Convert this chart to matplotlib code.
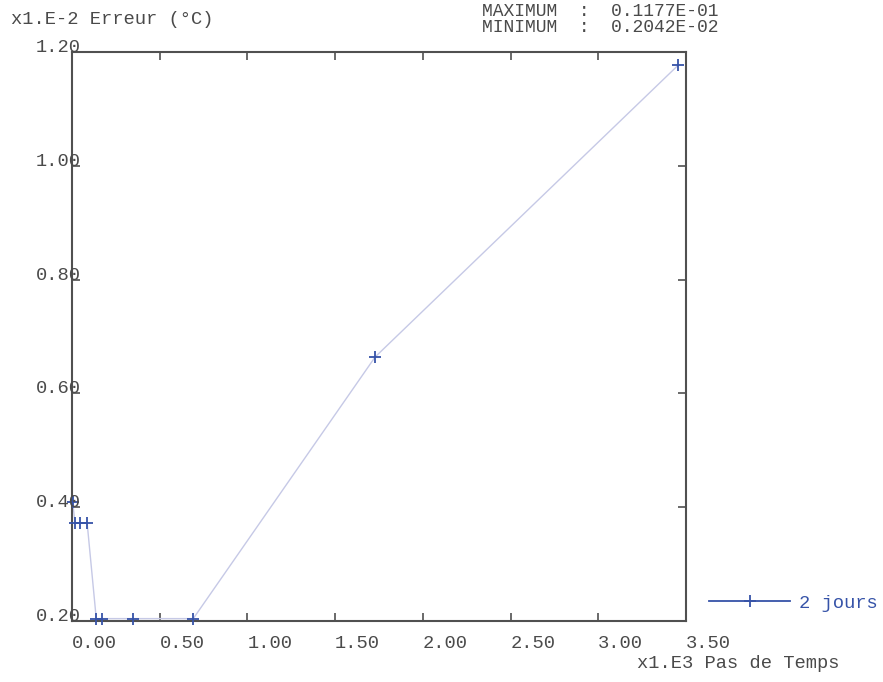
import matplotlib
matplotlib.use("Agg")
import matplotlib.pyplot as plt
from matplotlib.lines import Line2D
import matplotlib.transforms as mtransforms

# time steps (x1.E3) and error (x1.E-2 degC)
pas_temps = [0.00346, 0.01728, 0.0432, 0.0864, 0.13824, 0.1728, 0.3456, 0.6912, 1.728, 3.456]
erreur = [0.410, 0.372, 0.372, 0.372, 0.2042, 0.2042, 0.2042, 0.2042, 0.664, 1.177]

x_ticks = [0.0, 0.5, 1.0, 1.5, 2.0, 2.5, 3.0, 3.5]
y_ticks = [0.2, 0.4, 0.6, 0.8, 1.0, 1.2]

serie_label = "2 jours"
max_text = "MAXIMUM  :  0.1177E-01"
min_text = "MINIMUM  :  0.2042E-02"

mono = "Liberation Mono"
txt_col = "#4a4a4a"
blue = "#3653a8"
lav = "#c6c9e6"
fs = 13.5

fig = plt.figure(figsize=(8.83, 6.82), dpi=100)
ax = fig.add_axes([72 / 883, 1 - 621 / 682, 614 / 883, 569 / 682])

ax.plot(pas_temps, erreur, color=lav, lw=1.0, zorder=2)
ax.plot(pas_temps, erreur, ls="none", marker="+", ms=8, mew=1.3, color=blue,
        clip_on=False, zorder=3)

ax.set_xlim(0, 3.5)
ax.set_ylim(0.2, 1.2)
ax.set_xticks(x_ticks)
ax.set_yticks(y_ticks)
ax.set_xticklabels([])
ax.set_yticklabels([])
ax.tick_params(direction="in", length=5.5, width=1.2, color="#505050",
               top=True, right=True, bottom=True, left=True)
for s in ax.spines.values():
    s.set_color("#505050")
    s.set_linewidth(1.5)

# tick labels, castem style: x labels start at the tick, y labels sit on the tick
trans_x = mtransforms.blended_transform_factory(ax.transData, fig.transFigure)
for t in x_ticks:
    ax.text(t, 1 - 643 / 682, f"{t:.2f}", transform=trans_x, ha="left", va="center",
            fontsize=fs, family=mono, color=txt_col, clip_on=False)
trans_y = mtransforms.blended_transform_factory(fig.transFigure, ax.transData)
for t in y_ticks:
    ax.text(36 / 883, t, f"{t:.2f}", transform=trans_y, ha="left", va="baseline",
            fontsize=fs, family=mono, color=txt_col, clip_on=False)

fig.text(11 / 883, 1 - 19 / 682, "x1.E-2 Erreur (\u00b0C)", ha="left", va="center",
         fontsize=fs, family=mono, color=txt_col)
fig.text(637 / 883, 1 - 664 / 682, "x1.E3 Pas de Temps", ha="left", va="center",
         fontsize=fs, family=mono, color=txt_col)
fig.text(482 / 883, 1 - 12 / 682, max_text, ha="left", va="center",
         fontsize=13, family=mono, color=txt_col)
fig.text(482 / 883, 1 - 28 / 682, min_text, ha="left", va="center",
         fontsize=13, family=mono, color=txt_col)

handle = Line2D([], [], color=blue, lw=1.3, marker="+", ms=8, mew=1.3)
fig.legend([handle], [serie_label], loc="center left",
           bbox_to_anchor=(700 / 883, 1 - 603 / 682), frameon=False,
           handlelength=4.3, handletextpad=0.5, borderpad=0, numpoints=1,
           prop={"family": mono, "size": fs}, labelcolor=blue)

fig.savefig("out.png", dpi=100)
